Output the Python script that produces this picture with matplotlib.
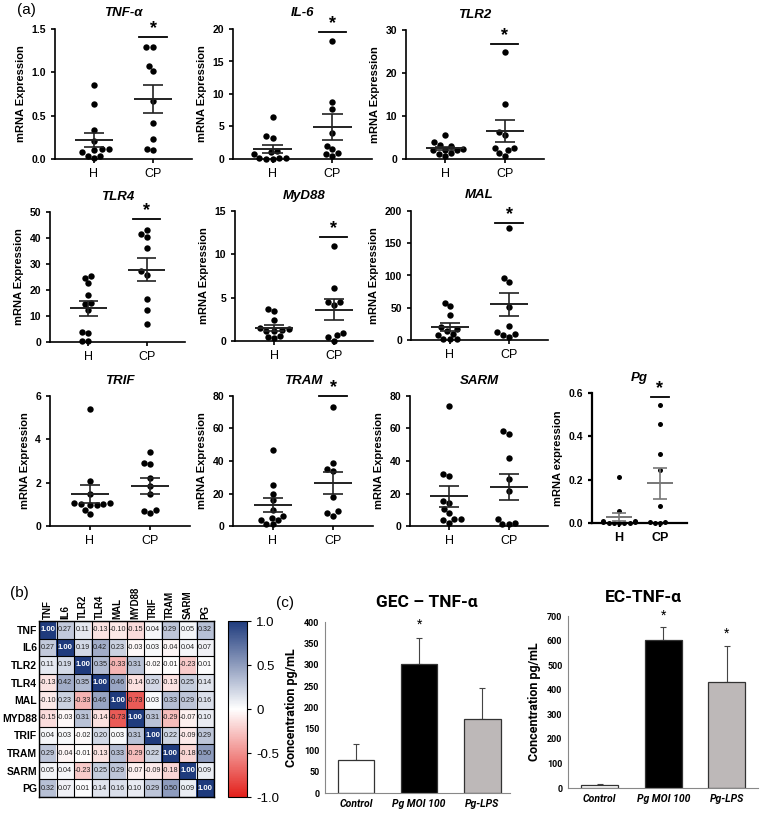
import numpy as np
import matplotlib
matplotlib.use("Agg")
import matplotlib.pyplot as plt
import seaborn as sns
from matplotlib.colors import LinearSegmentedColormap

plt.rcParams['font.family'] = ['Liberation Sans', 'DejaVu Sans']

#---------------- data ----------------#
groups = ["H", "CP"]

tnf_h   = [0.85, 0.64, 0.33, 0.21, 0.12, 0.11, 0.10, 0.08, 0.04, 0.04, 0.01]
tnf_cp  = [1.29, 1.29, 1.07, 1.01, 0.67, 0.42, 0.23, 0.12, 0.10]
il6_h   = [6.5, 3.6, 3.3, 1.2, 1.0, 0.7, 0.2, 0.1, 0.1, 0.05, 0.05]
il6_cp  = [18.2, 8.7, 7.7, 4.0, 2.0, 1.5, 0.9, 0.8, 0.4]
tlr2_h  = [5.5, 3.9, 3.2, 3.1, 2.4, 2.2, 2.2, 2.0, 1.4, 1.2, 0.6]
tlr2_cp = [24.9, 12.7, 6.2, 5.5, 2.5, 2.5, 2.0, 1.3, 0.7]
tlr4_h  = [25.4, 24.5, 22.5, 18.0, 15.0, 14.5, 12.5, 4.0, 3.5, 0.5, 0.2]
tlr4_cp = [43.2, 41.6, 40.4, 36.3, 27.4, 25.9, 16.5, 12.2, 6.9]
myd_h   = [3.7, 3.5, 2.4, 1.5, 1.4, 1.3, 1.2, 1.1, 0.6, 0.5, 0.3]
myd_cp  = [11.0, 6.1, 4.5, 4.5, 4.2, 0.9, 0.7, 0.5, 0.05]
mal_h   = [58, 52, 38, 20, 17, 14, 10, 7, 2, 1, 1]
mal_cp  = [173, 96, 90, 51, 22, 13, 10, 8, 5]
trif_h  = [5.4, 2.1, 1.5, 1.05, 1.05, 1.0, 1.0, 0.97, 0.95, 0.75, 0.57]
trif_cp = [3.4, 2.9, 2.85, 2.2, 1.85, 1.5, 0.75, 0.7, 0.6]
tram_h  = [47, 25, 20, 16, 10, 6, 5, 4, 3.5, 1.5, 1]
tram_cp = [73, 39, 35, 34, 18, 9, 8, 6]
sarm_h  = [74, 32, 31, 15.6, 14.2, 10.5, 8, 4.5, 4.5, 3.5, 2]
sarm_cp = [58.4, 56.6, 42, 29.2, 21.4, 4.1, 2, 1, 1]
pg_h    = [0.213, 0.054, 0.01, 0.008, 0.005, 0.003, 0.002, 0.001, 0.0, 0.0, 0.0]
pg_cp   = [0.545, 0.455, 0.317, 0.245, 0.079, 0.005, 0.003, 0.002, 0.001]

# mean / SEM as drawn (H, CP)
tnf_mean,  tnf_sem  = [0.22, 0.69], [0.085, 0.165]
il6_mean,  il6_sem  = [1.54, 4.94], [0.6, 1.95]
tlr2_mean, tlr2_sem = [2.45, 6.5], [0.4, 2.6]
tlr4_mean, tlr4_sem = [13.0, 27.8], [2.9, 4.5]
myd_mean,  myd_sem  = [1.55, 3.6], [0.35, 1.2]
mal_mean,  mal_sem  = [20.5, 55.5], [6.0, 18.0]
trif_mean, trif_sem = [1.49, 1.86], [0.41, 0.37]
tram_mean, tram_sem = [12.8, 26.5], [4.2, 7.0]
sarm_mean, sarm_sem = [18.3, 24.0], [6.5, 8.0]
pg_mean,   pg_sem   = [0.026, 0.184], [0.019, 0.072]

# correlation matrix (b)
genes = ["TNF", "IL6", "TLR2", "TLR4", "MAL", "MYD88", "TRIF", "TRAM", "SARM", "PG"]
corr = np.array([
    [1.00, 0.27, 0.11, -0.13, -0.10, -0.15, 0.04, 0.29, 0.05, 0.32],
    [0.27, 1.00, 0.19, 0.42, 0.23, -0.03, 0.03, -0.04, 0.04, 0.07],
    [0.11, 0.19, 1.00, 0.35, -0.33, 0.31, -0.02, -0.01, -0.23, 0.01],
    [-0.13, 0.42, 0.35, 1.00, 0.46, -0.14, 0.20, -0.13, 0.25, 0.14],
    [-0.10, 0.23, -0.33, 0.46, 1.00, -0.73, 0.03, 0.33, 0.29, 0.16],
    [-0.15, -0.03, 0.31, -0.14, -0.73, 1.00, 0.31, -0.29, -0.07, 0.10],
    [0.04, 0.03, -0.02, 0.20, 0.03, 0.31, 1.00, 0.22, -0.09, 0.29],
    [0.29, -0.04, -0.01, -0.13, 0.33, -0.29, 0.22, 1.00, -0.18, 0.50],
    [0.05, 0.04, -0.23, 0.25, 0.29, -0.07, -0.09, -0.18, 1.00, 0.09],
    [0.32, 0.07, 0.01, 0.14, 0.16, 0.10, 0.29, 0.50, 0.09, 1.00]])

# bar charts (c)
conds = ["Control", "Pg MOI 100", "Pg-LPS"]
gec_mean = [78, 302, 173]
gec_err  = [37, 60, 73]
ec_mean  = [14, 602, 432]
ec_err   = [3, 55, 146]

#---------------- figure ----------------#
W, H = 760, 822
fig = plt.figure(figsize=(7.6, 8.22), dpi=100)

def px_rect(l, t, r, b):
    return [l / W, 1 - b / H, (r - l) / W, (b - t) / H]

def scatter_panel(rect, title, h, cp, mean, sem, ymax, ystep, sig=None, fmt="{:.0f}",
                  line_col="#222222", dot=4.6, pg_style=False, ylab="mRNA Expression"):
    ax = fig.add_axes(px_rect(*rect))
    cats = ["H"] * len(h) + ["CP"] * len(cp)
    sns.swarmplot(x=cats, y=list(h) + list(cp), order=groups, color="black",
                  size=dot, ax=ax)
    for c in ax.collections:
        c.set_clip_on(False)
    ax.set_xlim(-0.66, 1.66)
    ax.set_ylim(0, ymax)
    for i in range(2):
        ax.hlines(mean[i], i - 0.32, i + 0.32, color=line_col, lw=1.4, zorder=3)
        ax.vlines(i, mean[i] - sem[i], mean[i] + sem[i], color=line_col, lw=1.2, zorder=3)
        ax.hlines([mean[i] - sem[i], mean[i] + sem[i]], i - 0.17, i + 0.17,
                  color=line_col, lw=1.2, zorder=3)
    if sig is not None:
        ax.plot([0.77, 1.23], [sig, sig], color="black", lw=1.3, clip_on=False)
        ax.text(1, sig, "*", ha="center", va="bottom", fontsize=13, fontweight="bold")
    ticks = np.arange(0, ymax + ystep / 2, ystep)
    ax.set_yticks(ticks)
    ax.set_yticklabels([fmt.format(t) for t in ticks])
    ax.set_xticks([0, 1])
    ax.set_xticklabels(groups)
    ax.set_xlabel("")
    ax.set_ylabel(ylab, fontsize=8, fontweight="bold")
    for s in ["top", "right"]:
        ax.spines[s].set_visible(False)
    lw = 1.6 if pg_style else 1.2
    ax.spines["left"].set_linewidth(lw)
    ax.spines["bottom"].set_linewidth(lw)
    ax.tick_params(axis="y", labelsize=7.5, width=lw, length=3)
    ax.tick_params(axis="x", labelsize=9, width=lw, length=3)
    plt.setp(ax.get_yticklabels(), fontweight="bold")
    if pg_style:
        plt.setp(ax.get_xticklabels(), fontweight="bold")
    ax.set_title(title, fontsize=9.5, fontweight="bold", style="italic", pad=9)
    return ax

scatter_panel((55, 29, 192, 159), "TNF-α", tnf_h, tnf_cp, tnf_mean, tnf_sem, 1.5, 0.5, 1.41, "{:.1f}")
scatter_panel((233, 29, 372, 159), "IL-6", il6_h, il6_cp, il6_mean, il6_sem, 20, 5, 19.6)
scatter_panel((406, 30, 544, 159), "TLR2", tlr2_h, tlr2_cp, tlr2_mean, tlr2_sem, 30, 10, 26.8)
scatter_panel((50, 212, 185, 342), "TLR4", tlr4_h, tlr4_cp, tlr4_mean, tlr4_sem, 50, 10, 47.2)
scatter_panel((235, 211, 373, 341), "MyD88", myd_h, myd_cp, myd_mean, myd_sem, 15, 5, 12.0)
scatter_panel((411, 211, 548, 340), "MAL", mal_h, mal_cp, mal_mean, mal_sem, 200, 50, 182)
scatter_panel((50, 396, 190, 526), "TRIF", trif_h, trif_cp, trif_mean, trif_sem, 6, 2)
scatter_panel((233, 396, 373, 526), "TRAM", tram_h, tram_cp, tram_mean, tram_sem, 80, 20, 80.2)
scatter_panel((410, 396, 548, 526), "SARM", sarm_h, sarm_cp, sarm_mean, sarm_sem, 80, 20)
scatter_panel((592, 393, 687, 523), "Pg", pg_h, pg_cp, pg_mean, pg_sem, 0.6, 0.2, 0.58, "{:.1f}",
              line_col="#777777", dot=3.6, pg_style=True, ylab="mRNA expression")

fig.text(17 / W, 1 - 10 / H, "(a)", fontsize=11, ha="left", va="center")

#---------------- (b) heatmap ----------------#
cmap = LinearSegmentedColormap.from_list("rwb", ["#e3201b", "#ffffff", "#1f3b7d"])
axh = fig.add_axes(px_rect(39, 621, 214, 797))
im = axh.imshow(corr, cmap=cmap, vmin=-1, vmax=1, aspect="auto")
for i in range(len(genes)):
    for j in range(len(genes)):
        v = corr[i, j]
        if v >= 0.99:
            axh.text(j, i, f"{v:.2f}", ha="center", va="center", fontsize=5.6,
                     color="white", fontweight="bold")
        else:
            axh.text(j, i, f"{v:.2f}", ha="center", va="center", fontsize=5.2, color="#222222")
axh.set_xticks(range(len(genes)))
axh.set_xticklabels(genes, rotation=90, fontsize=7, fontweight="bold")
axh.set_yticks(range(len(genes)))
axh.set_yticklabels(genes, fontsize=7.5, fontweight="bold")
axh.xaxis.tick_top()
axh.set_xticks(np.arange(-0.5, len(genes), 1), minor=True)
axh.set_yticks(np.arange(-0.5, len(genes), 1), minor=True)
axh.grid(which="minor", color="black", lw=0.8)
axh.tick_params(which="both", length=0, pad=1.5)
for s in axh.spines.values():
    s.set_linewidth(1.0)

cax = fig.add_axes(px_rect(228, 621, 247, 797))
cb = fig.colorbar(im, cax=cax, ticks=[-1, -0.5, 0, 0.5, 1])
cb.ax.set_yticklabels(["-1.0", "-0.5", "0", "0.5", "1.0"])
cb.ax.tick_params(labelsize=9.5, length=3)
cb.outline.set_linewidth(0.8)
fig.text(10 / W, 1 - 593 / H, "(b)", fontsize=11, ha="left", va="center")

#---------------- (c) bar charts ----------------#
bar_cols = ["white", "black", "#bdb8b8"]
cfont = ["Roboto", "DejaVu Sans"]

def bar_panel(rect, means, errs, ymax, ystep, xlim, stars):
    ax = fig.add_axes(px_rect(*rect))
    x = np.arange(len(conds))
    ax.bar(x, means, width=0.58, color=bar_cols, edgecolor="#333333", lw=0.9, zorder=2)
    ax.errorbar(x, means, yerr=[np.zeros(len(x)), errs], fmt="none", ecolor="#444444",
                elinewidth=0.8, capsize=2.5, capthick=0.8, zorder=1)
    for i, yv in stars:
        ax.text(i, yv, "*", ha="center", va="center", fontsize=9, family=cfont)
    ax.set_xlim(*xlim)
    ax.set_ylim(0, ymax)
    ax.set_yticks(np.arange(0, ymax + 1, ystep))
    ax.set_xticks(x)
    ax.set_xticklabels(conds, fontsize=7.5, style="italic", fontweight="bold", family=cfont)
    plt.setp(ax.get_yticklabels(), fontsize=6.5, family=cfont, fontweight="bold")
    ax.tick_params(length=0, pad=4)
    for s in ["top", "right"]:
        ax.spines[s].set_visible(False)
    ax.spines["left"].set_color("#888888")
    ax.spines["bottom"].set_color("#888888")
    ax.set_ylabel("Concentration pg/mL", fontsize=9, fontweight="bold", family=cfont)
    return ax

bar_panel((325, 622, 510, 793), gec_mean, gec_err, 400, 50, (-0.49, 2.44), [(1, 395)])
bar_panel((568, 616, 758, 788), ec_mean, ec_err, 700, 100, (-0.5, 2.49), [(1, 705), (2, 632)])
fig.text(427 / W, 1 - 602 / H, "GEC – TNF-α", fontsize=12.5, fontweight="bold",
         ha="center", va="center", family=cfont)
fig.text(643 / W, 1 - 597 / H, "EC-TNF-α", fontsize=12.5, fontweight="bold",
         ha="center", va="center", family=cfont)
fig.text(276 / W, 1 - 603 / H, "(c)", fontsize=11, ha="left", va="center")

fig.savefig("out.png", dpi=100)
